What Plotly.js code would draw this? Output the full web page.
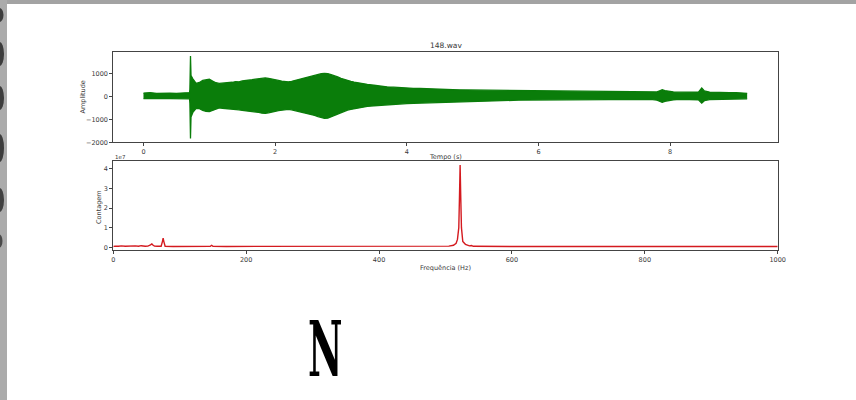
<!DOCTYPE html>
<html>
<head>
<meta charset="utf-8">
<script src="https://cdn.plot.ly/plotly-3.0.1.min.js"></script>
<style>
  html, body { margin: 0; padding: 0; background: #ffffff; overflow: hidden; }
  #wrap { position: relative; width: 856px; height: 400px; }
  #chart { position: absolute; left: 0; top: 0; width: 856px; height: 400px; }
  #letter { position: absolute; left: 308px; top: 311px; font-family: "DejaVu Serif", serif; font-weight: bold;
            font-size: 77px; line-height: 77px; color: #000; transform: scaleX(0.49); transform-origin: left top; }
</style>
</head>
<body>
<div id="wrap">
  <div id="chart"></div>
  <div id="letter">N</div>
</div>
<script>
// ---- Waveform envelope (148.wav), time in seconds, amplitude ----
const envTime  = [0.00, 0.10, 0.20, 0.30, 0.40, 0.50, 0.60, 0.70, 0.705, 0.714, 0.722, 0.735,
                  0.75, 0.80, 0.85, 0.90, 0.95, 1.00, 1.05, 1.10, 1.15, 1.20, 1.25, 1.30, 1.35, 1.40, 1.45, 1.50, 1.55, 1.60,
                  1.65, 1.70, 1.75, 1.80, 1.85, 1.90, 1.95, 2.00, 2.05, 2.10, 2.15, 2.20, 2.25, 2.30, 2.35, 2.40, 2.45, 2.50,
                  2.55, 2.60, 2.65, 2.70, 2.75, 2.80, 2.85, 2.90, 2.95, 3.00, 3.05, 3.10, 3.15, 3.20, 3.25, 3.30,
                  3.4, 3.5, 3.6, 3.7, 3.8, 3.9, 4.0, 4.1, 4.2, 4.3, 4.4, 4.5, 4.6, 4.7, 4.8, 4.9, 5.0, 5.1, 5.2, 5.3, 5.4,
                  5.5, 5.6, 5.7, 5.8, 5.9, 6.0, 6.1, 6.2, 6.3, 6.4, 6.5, 6.6, 6.7, 6.8, 6.9, 7.0, 7.1, 7.2, 7.3, 7.4, 7.5,
                  7.6, 7.7, 7.8, 7.85, 7.88, 7.92, 7.98, 8.05, 8.15, 8.25, 8.35, 8.43, 8.48, 8.52, 8.6, 8.7, 8.8, 8.9, 9.0,
                  9.1, 9.17];
const envUpper = [140, 160, 130, 150, 140, 130, 150, 160, 300, 1750, 900, 820,
                  760, 560, 600, 690, 720, 745, 660, 590, 560, 575, 560, 600, 610, 640, 630, 670, 680, 705,
                  720, 745, 760, 790, 800, 780, 760, 720, 690, 660, 640, 630, 650, 690, 720, 760, 800, 830,
                  860, 900, 950, 985, 1000, 990, 940, 900, 840, 780, 730, 680, 650, 620, 590, 570,
                  520, 480, 440, 410, 395, 370, 365, 345, 340, 325, 315, 305, 295, 285, 280, 275, 272, 265, 262, 258, 252,
                  250, 245, 240, 238, 232, 230, 222, 218, 212, 205, 200, 198, 195, 193, 188, 185, 182, 180, 178, 172, 170,
                  168, 165, 190, 250, 285, 250, 215, 190, 178, 172, 170, 185, 360, 230, 182, 168, 165, 160, 162,
                  158, 130];
const envLower = [-100, -110, -95, -105, -100, -110, -100, -110, -300, -1830, -900, -760,
                  -700, -520, -540, -610, -660, -670, -610, -540, -505, -520, -530, -545, -560, -575, -590, -615, -630, -640,
                  -670, -690, -700, -735, -745, -720, -700, -660, -620, -600, -585, -570, -590, -620, -660, -700, -740, -770,
                  -800, -830, -880, -930, -960, -950, -890, -840, -760, -700, -650, -600, -570, -540, -505, -480,
                  -440, -410, -385, -360, -345, -330, -315, -305, -295, -290, -270, -262, -255, -240, -235, -228, -222, -212, -205, -198, -185,
                  -178, -172, -168, -165, -162, -160, -155, -150, -148, -146, -145, -148, -150, -152, -155, -155, -150, -146, -143, -138, -135,
                  -132, -130, -170, -230, -265, -220, -185, -150, -138, -133, -130, -150, -300, -190, -142, -136, -133, -130, -131,
                  -128, -110];

// ---- Spectrum: frequency (Hz) and count (x 1e7) ----
const specFreq  = [0, 3, 8, 12, 18, 22, 27, 33, 38, 42, 48, 52, 56, 58, 60, 62, 66, 72, 74, 75, 76, 78, 90, 110, 130, 146, 148, 150,
                   170, 200, 240, 250, 260, 300, 350, 400, 450, 490, 505, 512, 516, 518, 520, 521, 522, 523, 524, 526, 530, 536, 539, 542,
                   560, 600, 700, 800, 900, 1000];
const specCount = [0.04, 0.06, 0.05, 0.07, 0.05, 0.06, 0.05, 0.07, 0.05, 0.08, 0.05, 0.06, 0.12, 0.17, 0.10, 0.06, 0.05, 0.05, 0.30, 0.46, 0.30, 0.05, 0.04, 0.04, 0.04, 0.05, 0.10, 0.05,
                   0.04, 0.04, 0.04, 0.05, 0.04, 0.04, 0.04, 0.04, 0.04, 0.05, 0.06, 0.10, 0.20, 0.40, 1.00, 2.50, 4.20, 2.50, 1.00, 0.30, 0.15, 0.07, 0.09, 0.05,
                   0.04, 0.04, 0.04, 0.04, 0.04, 0.04];

// ---- Tick labels ----
const ampTicks  = [-2000, -1000, 0, 1000];
const timeTicks = [0, 2, 4, 6, 8];
const cntTicks  = [0, 1, 2, 3, 4];
const freqTicks = [0, 200, 400, 600, 800, 1000];

const W = 856, H = 400;
const px = x => x / W;
const py = y => 1 - y / H;

const green = '#0a7d0a';
const red = '#d41a1f';
const axisColor = '#444444';
const textColor = '#3a3a3a';
const tickFont = { family: 'DejaVu Sans', size: 6.5, color: textColor };

const traces = [
  { x: envTime, y: envLower, type: 'scatter', mode: 'lines', line: { color: green, width: 1.3 }, xaxis: 'x', yaxis: 'y', hoverinfo: 'skip' },
  { x: envTime, y: envUpper, type: 'scatter', mode: 'lines', line: { color: green, width: 1.3 }, fill: 'tonexty', fillcolor: green, xaxis: 'x', yaxis: 'y', hoverinfo: 'skip' },
  { x: specFreq, y: specCount, type: 'scatter', mode: 'lines', line: { color: red, width: 1.4 }, xaxis: 'x2', yaxis: 'y2', hoverinfo: 'skip' }
];

function axisBase(extra) {
  return Object.assign({
    showline: true, mirror: true, linecolor: axisColor, linewidth: 1,
    ticks: 'outside', ticklen: 3, tickwidth: 1, tickcolor: axisColor,
    showgrid: false, zeroline: false, tickfont: tickFont, tickmode: 'array', fixedrange: true
  }, extra);
}

const annFont = { family: 'DejaVu Sans', size: 6.5, color: textColor };
const blob = (x1, y0, y1, c) => ({ type: 'circle', xref: 'paper', yref: 'paper', x0: px(-5), x1: px(x1), y0: py(y1), y1: py(y0),
                                   fillcolor: c, line: { width: 0 }, layer: 'above' });
const layout = {
  width: W, height: H, autosize: false,
  margin: { l: 0, r: 0, t: 0, b: 0, pad: 0 },
  paper_bgcolor: '#ffffff', plot_bgcolor: '#ffffff',
  showlegend: false,
  xaxis: axisBase({ domain: [px(113.3), px(777.7)], range: [-0.4585, 9.634], tickvals: timeTicks, anchor: 'y' }),
  yaxis: axisBase({ domain: [py(142.3), py(52.3)], range: [-2000, 1913], tickvals: ampTicks, anchor: 'x' }),
  xaxis2: axisBase({ domain: [px(113.3), px(777.7)], range: [0, 1000], tickvals: freqTicks, anchor: 'y2' }),
  yaxis2: axisBase({ domain: [py(250), py(161)], range: [-0.14, 4.4], tickvals: cntTicks, anchor: 'x2' }),
  annotations: [
    { text: '148.wav', x: px(445.5), y: py(45.5), xref: 'paper', yref: 'paper', showarrow: false, font: { family: 'DejaVu Sans', size: 7.5, color: textColor }, xanchor: 'center', yanchor: 'middle' },
    { text: 'Tempo (s)', x: px(445.5), y: py(156.5), xref: 'paper', yref: 'paper', showarrow: false, font: annFont, xanchor: 'center', yanchor: 'middle' },
    { text: 'Amplitude', x: px(82.5), y: py(97), xref: 'paper', yref: 'paper', showarrow: false, font: annFont, textangle: -90, xanchor: 'center', yanchor: 'middle' },
    { text: '1e7', x: px(113), y: py(156.5), xref: 'paper', yref: 'paper', showarrow: false, font: { family: 'DejaVu Sans', size: 5.5, color: textColor }, xanchor: 'left', yanchor: 'middle' },
    { text: 'Contagem', x: px(99), y: py(207), xref: 'paper', yref: 'paper', showarrow: false, font: annFont, textangle: -90, xanchor: 'center', yanchor: 'middle' },
    { text: 'Frequência (Hz)', x: px(445.5), y: py(267.5), xref: 'paper', yref: 'paper', showarrow: false, font: annFont, xanchor: 'center', yanchor: 'middle' }
  ],
  shapes: [
    { type: 'rect', xref: 'paper', yref: 'paper', x0: 0, x1: 1, y0: py(4), y1: 1, fillcolor: '#a3a3a3', line: { width: 0 }, layer: 'above' },
    { type: 'rect', xref: 'paper', yref: 'paper', x0: 0, x1: px(7), y0: 0, y1: 1, fillcolor: '#ababab', line: { width: 0 }, layer: 'above' },
    blob(3.5, 8, 22, '#3c3c3c'),
    blob(4, 42, 66, '#3c3c3c'),
    blob(4, 86, 110, '#3c3c3c'),
    blob(4, 134, 162, '#3c3c3c'),
    blob(4, 188, 212, '#404040'),
    blob(2.5, 234, 248, '#4a4a4a')
  ]
};

Plotly.newPlot('chart', traces, layout, { staticPlot: true, displayModeBar: false });
</script>
</body>
</html>
